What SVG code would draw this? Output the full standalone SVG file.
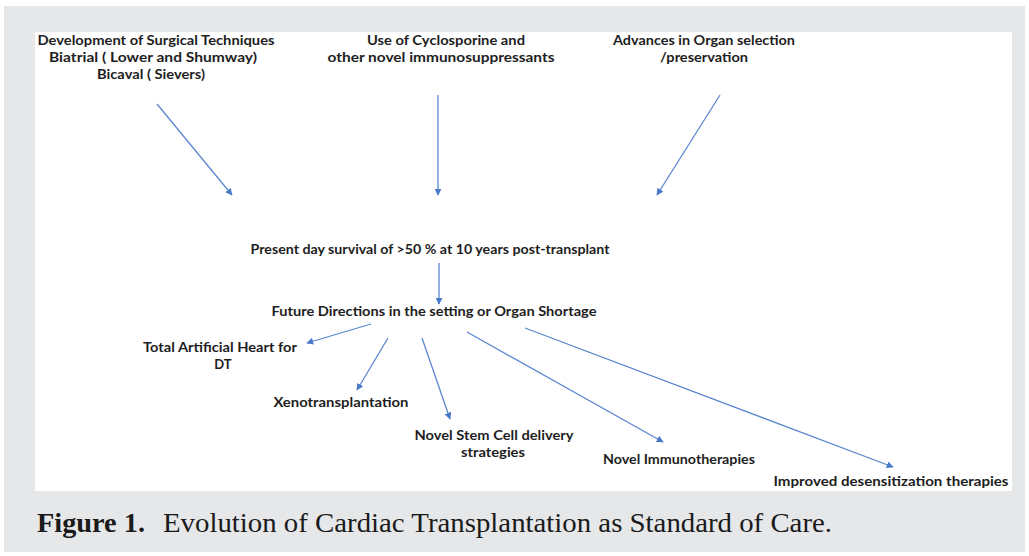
<svg xmlns="http://www.w3.org/2000/svg" width="1029" height="556" viewBox="0 0 1029 556">
<defs>
<style>
.t{font-family:Lato,"Liberation Sans",sans-serif;font-weight:700;font-size:13px;fill:#1e1e1e;text-anchor:middle}
.c{stroke:#5b87cf;stroke-width:1.3;fill:none;marker-end:url(#ah)}
.cap{font-family:"Liberation Serif","Times New Roman",Times,serif;font-size:28px;fill:#1a1a1a}
</style>
<marker id="ah" viewBox="0 0 10 10" refX="9" refY="5" markerWidth="7" markerHeight="7" orient="auto" markerUnits="userSpaceOnUse">
<path d="M0,0 L10,5 L0,10 z" fill="#4a78c8"/>
</marker>
</defs>
<rect x="0" y="0" width="1029" height="556" fill="#ffffff"/>
<rect x="4" y="6" width="1021" height="546" fill="#e6e7e9"/>
<rect x="35" y="32" width="977" height="459" fill="#ffffff"/>

<g id="n-surgical">
<text class="t" x="156" y="45" textLength="237" lengthAdjust="spacingAndGlyphs">Development of Surgical Techniques</text>
<text class="t" x="153" y="62" textLength="208" lengthAdjust="spacingAndGlyphs">Biatrial ( Lower and Shumway)</text>
<text class="t" x="151" y="79" textLength="108" lengthAdjust="spacingAndGlyphs">Bicaval ( Sievers)</text>
</g>
<g id="n-cyclosporine">
<text class="t" x="446" y="45" textLength="158" lengthAdjust="spacingAndGlyphs">Use of Cyclosporine and</text>
<text class="t" x="441" y="62" textLength="227" lengthAdjust="spacingAndGlyphs">other novel immunosuppressants</text>
</g>
<g id="n-organ">
<text class="t" x="704" y="45" textLength="182" lengthAdjust="spacingAndGlyphs">Advances in Organ selection</text>
<text class="t" x="704" y="62" textLength="88" lengthAdjust="spacingAndGlyphs">/preservation</text>
</g>
<g id="n-present">
<text class="t" x="430" y="254" textLength="359" lengthAdjust="spacingAndGlyphs">Present day survival of &gt;50 % at 10 years post-transplant</text>
</g>
<g id="n-future">
<text class="t" x="434" y="316" textLength="325" lengthAdjust="spacingAndGlyphs">Future Directions in the setting or Organ Shortage</text>
</g>
<g id="n-tah">
<text class="t" x="220" y="352" textLength="154" lengthAdjust="spacingAndGlyphs">Total Artificial Heart for</text>
<text class="t" x="223" y="369">DT</text>
</g>
<g id="n-xeno">
<text class="t" x="341" y="407" textLength="135" lengthAdjust="spacingAndGlyphs">Xenotransplantation</text>
</g>
<g id="n-stem">
<text class="t" x="494" y="440" textLength="159" lengthAdjust="spacingAndGlyphs">Novel Stem Cell delivery</text>
<text class="t" x="493" y="457" textLength="64" lengthAdjust="spacingAndGlyphs">strategies</text>
</g>
<g id="n-immuno">
<text class="t" x="679" y="464" textLength="152" lengthAdjust="spacingAndGlyphs">Novel Immunotherapies</text>
</g>
<g id="n-desens">
<text class="t" x="891" y="486" textLength="235" lengthAdjust="spacingAndGlyphs">Improved desensitization therapies</text>
</g>

<g id="connectors">
<line class="c" x1="157" y1="104" x2="232" y2="195"/>
<line class="c" x1="438" y1="95" x2="438" y2="195"/>
<line class="c" x1="720" y1="95" x2="657" y2="195"/>
<line class="c" x1="439" y1="263" x2="439" y2="304"/>
<line class="c" x1="371" y1="324" x2="307" y2="343"/>
<line class="c" x1="388" y1="338" x2="357" y2="390"/>
<line class="c" x1="422" y1="338" x2="450" y2="419"/>
<line class="c" x1="467" y1="332" x2="663" y2="442"/>
<line class="c" x1="525" y1="328" x2="893" y2="467"/>
</g>

<g id="caption">
<text class="cap" x="37" y="532" font-weight="700" textLength="108" lengthAdjust="spacingAndGlyphs">Figure 1.</text>
<text class="cap" x="163" y="532" textLength="669" lengthAdjust="spacingAndGlyphs">Evolution of Cardiac Transplantation as Standard of Care.</text>
</g>
</svg>
